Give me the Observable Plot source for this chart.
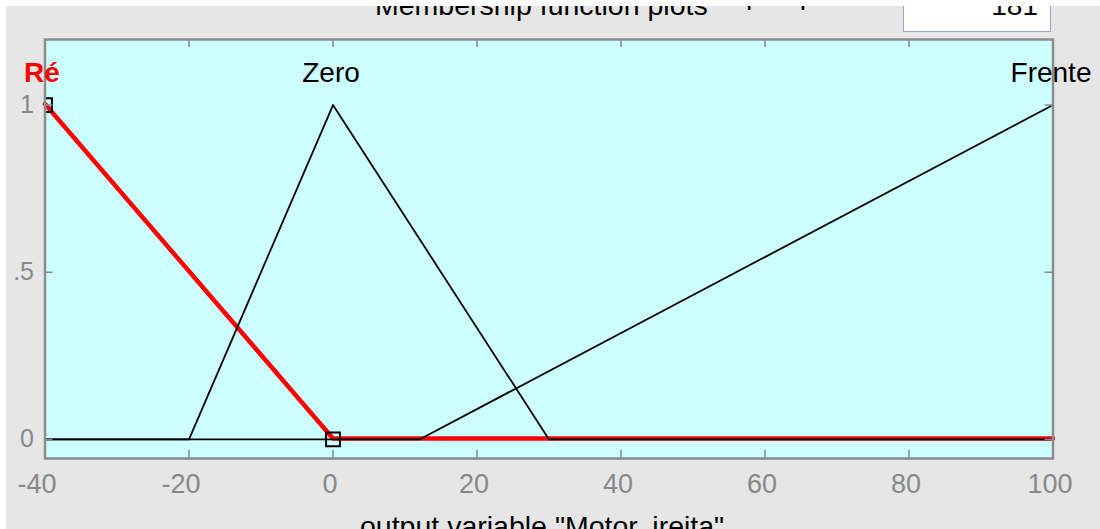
<!DOCTYPE html>
<html><head><meta charset="utf-8">
<script src="https://cdn.jsdelivr.net/npm/d3@7"></script>
<script src="https://cdn.jsdelivr.net/npm/@observablehq/plot@0.6"></script>
<style>
html,body{margin:0;padding:0;background:#fff;}
#page{position:relative;width:1100px;height:529px;overflow:hidden;font-family:"Liberation Sans",Arial,sans-serif;}
#panel{position:absolute;left:6px;top:6px;width:1094px;height:523px;background:#e6e6e6;overflow:hidden;}
.hdr{position:absolute;font-size:28.5px;color:#000;white-space:nowrap;line-height:1;}
#title{left:369px;top:-15px;}
#pp{left:740px;top:-26px;}
#box{position:absolute;left:897px;top:-20px;width:146px;height:44px;background:#fff;border:1.5px solid #95aacb;}
#box span{position:absolute;right:12px;top:5px;font-size:28px;line-height:1;}
#xlabel{left:354px;top:506px;}
#xlabel sub{font-size:20px;vertical-align:-8px;}
#chart{position:absolute;left:0;top:0;}
</style></head><body>
<div id="page">
  <div id="panel">
    <div class="hdr" id="title">Membership function plots</div>
    <div class="hdr" id="pp">plot points:</div>
    <div id="box"><span>181</span></div>
    <div class="hdr" id="xlabel">output variable "Motor<sub>D</sub>ireita"</div>
  </div>
  <div id="chart"></div>
</div>
<script>
// ---- data ----
const xTicks = [-40, -20, 0, 20, 40, 60, 80, 100];
const yTicks = [0, 0.5, 1];
const yTickLabels = ["0", ".5", "1"];
const mfNames = ["Ré", "Zero", "Frente"];
const mfPeaks = [-40, 0, 100];
const reX = [-40, 0, 100];
const reY = [1, 0, 0];
const zeroX = [-40, -20, 0, 30, 100];
const zeroY = [0, 0, 1, 0, 0];
const frenteX = [-40, 12, 100];
const frenteY = [0, 0, 1];
const reParamX = [-40, 0];
const reParamY = [1, 0];

const pts = (xs, ys) => xs.map((x, i) => ({x, y: ys[i]}));
const W = 1100, H = 529, mL = 44.5, mR = 47.5, mT = 39, mB = 71;
const plotW = W - mL - mR, plotH = H - mT - mB;
const tickLen = 8;
const font = "'Liberation Sans', Arial, sans-serif";
const gray = "#888";
const negTicks = xTicks.filter(d => d < 0);
const posTicks = xTicks.filter(d => d >= 0);

const chart = Plot.plot({
  width: W, height: H,
  marginLeft: mL, marginRight: mR, marginTop: mT, marginBottom: mB,
  x: {domain: [-40, 100], axis: null},
  y: {domain: [-0.057, 1.196], axis: null},
  style: {background: "transparent", fontFamily: font, overflow: "visible"},
  marks: [
    Plot.frame({fill: "#ccffff"}),
    Plot.line(pts(reX, reY), {x: "x", y: "y", stroke: "#ff0000", strokeWidth: 4.5, dy: -1}),
    Plot.line(pts(zeroX, zeroY), {x: "x", y: "y", stroke: "#000", strokeWidth: 1.8}),
    Plot.line(pts(frenteX, frenteY), {x: "x", y: "y", stroke: "#000", strokeWidth: 1.8}),
    Plot.dot(pts(reParamX, reParamY), {x: "x", y: "y", symbol: "square", r: 7.8, stroke: "#000", fill: "none", strokeWidth: 2, clip: true}),
    Plot.tickX(xTicks, {x: d => d, stroke: gray, strokeWidth: 1.5, insetTop: plotH - tickLen}),
    Plot.tickX(xTicks, {x: d => d, stroke: gray, strokeWidth: 1.5, insetBottom: plotH - tickLen}),
    Plot.tickY(yTicks, {y: d => d, stroke: gray, strokeWidth: 1.5, insetRight: plotW - tickLen}),
    Plot.tickY(yTicks, {y: d => d, stroke: gray, strokeWidth: 1.5, insetLeft: plotW - tickLen}),
    Plot.frame({stroke: "#8c8c8c", strokeWidth: 2.5}),
    Plot.axisX(negTicks, {tickSize: 0, tickPadding: 15, dx: -8, color: gray, fontSize: 27, tickFormat: d => String(d), label: null}),
    Plot.axisX(posTicks, {tickSize: 0, tickPadding: 15, dx: -3, color: gray, fontSize: 27, tickFormat: d => String(d), label: null}),
    Plot.axisY(yTicks, {tickSize: 0, tickPadding: 11, color: gray, fontSize: 25, tickFormat: d => yTickLabels[yTicks.indexOf(d)], label: null}),
    Plot.text([0], {x: i => mfPeaks[i], text: i => mfNames[i], frameAnchor: "top", dy: 42, dx: -3, lineAnchor: "bottom", fontSize: 28, fontWeight: "bold", fill: "#ff0000"}),
    Plot.text([1, 2], {x: i => mfPeaks[i], text: i => mfNames[i], frameAnchor: "top", dy: 42, dx: -2, lineAnchor: "bottom", fontSize: 28, fill: "#000"})
  ]
});
document.getElementById("chart").appendChild(chart);
</script>
</body></html>
